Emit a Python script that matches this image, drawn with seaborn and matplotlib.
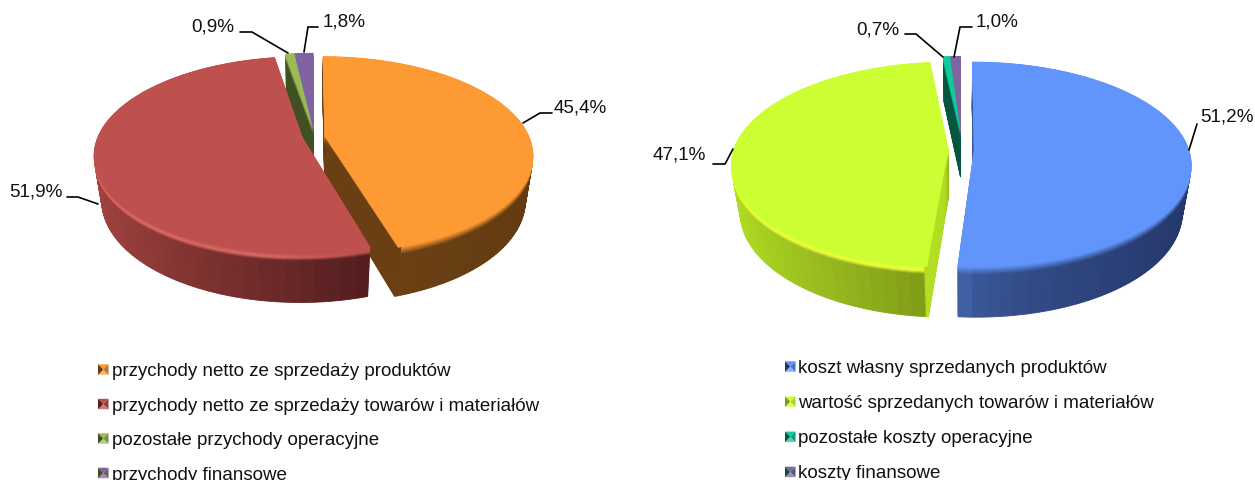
import numpy as np
import matplotlib
matplotlib.use("Agg")
import matplotlib.pyplot as plt
import matplotlib.transforms as mtransforms
from matplotlib.colors import to_rgb
from matplotlib.legend_handler import HandlerBase
from matplotlib.patches import Patch, Polygon
import seaborn as sns

# ---------- data ----------
left_labels = ["przychody netto ze sprzedaży produktów",
               "przychody netto ze sprzedaży towarów i materiałów",
               "pozostałe przychody operacyjne",
               "przychody finansowe"]
left_values = [45.4, 51.9, 0.9, 1.8]
right_labels = ["koszt własny sprzedanych produktów",
                "wartość sprzedanych towarów i materiałów",
                "pozostałe koszty operacyjne",
                "koszty finansowe"]
right_values = [51.2, 47.1, 0.7, 1.0]

# ---------- styles ----------
left_top = ["#FD9A34", "#BE504D", "#9BBB59", "#8064A2"]
left_wall_l = ["#6E4216", "#A3443F", "#3F5022", "#3F5022"]
left_wall_r = ["#633A11", "#541E20", "#3F5022", "#3F5022"]
left_rim = [None, "#DE6C68", None, None]
right_top = ["#6295FC", "#CCFF33", "#0FCB9B", "#8064A2"]
right_wall_l = ["#3F60A4", "#B2DE24", "#07553F", "#07553F"]
right_wall_r = ["#25376A", "#7F9B18", "#07553F", "#07553F"]
right_rim = [None, "#F2FF3A", None, None]

sns.set_theme(style="white")
plt.rcParams["font.family"] = ["Liberation Sans", "DejaVu Sans"]


class Persp(mtransforms.Transform):
    """Projects the unit pie plane at height z to pixel space."""
    input_dims = 2
    output_dims = 2
    has_inverse = False
    is_separable = False

    def __init__(self, geo, z):
        super().__init__()
        self.geo, self.z = geo, z

    def transform_non_affine(self, xy):
        g = self.geo
        xy = np.asarray(xy, float)
        w = 1 + g["k"] * xy[:, 1] + g["m"] * self.z
        return np.column_stack([g["X"] + g["A"] * xy[:, 0] / w,
                                g["Y"] + (-g["B"] * xy[:, 1] + g["Z"] * self.z) / w])


fig = plt.figure(figsize=(12.55, 4.8), dpi=100)
ax = fig.add_axes([0, 0, 1, 1])
LAYERS = 56
BEVEL = 0.15
CUT = 0.002


def mix(a, b, t):
    a, b = np.array(to_rgb(a)), np.array(to_rgb(b))
    return tuple(a + (b - a) * t)


def draw_pie(values, top, wall_l, wall_r, rim, geo, offsets, radii,
             cut_first, cut_last, gamma, order):
    fr = np.array(values) / sum(values)
    starts = np.concatenate([[0], np.cumsum(fr)[:-1]])
    parts = []
    for i in range(len(fr)):
        n = max(1, int(round(fr[i] * 110)))
        head = [CUT] if cut_first[i] else []
        tail = [CUT] if cut_last[i] else []
        body = fr[i] - CUT * (len(head) + len(tail))
        sub = head + [body / n] * n + tail
        edge = np.concatenate([[0], np.cumsum(sub)])
        mids = (edge[:-1] + edge[1:]) / 2 + starts[i]
        sx = np.sin(mids * 2 * np.pi)
        lo, hi = sx.min(), sx.max()
        ramp = sns.blend_palette([wall_l[i], wall_r[i]], 64)
        idx = (((sx - lo) / max(hi - lo, 1e-6)) ** gamma[i] * 63).astype(int)
        base = [ramp[j] for j in idx]
        crisp = [False] * len(sub)
        if cut_first[i]:
            base[0] = to_rgb(cut_first[i])
            crisp[0] = True
        if cut_last[i]:
            base[-1] = to_rgb(cut_last[i])
            crisp[-1] = True
        parts.append((np.array(sub), sx, base, crisp))

    for z in np.linspace(1, 0.0, LAYERS):
        tr = Persp(geo, z) + ax.transData
        for i in order:
            sub, sx, base, crisp = parts[i]
            cols = []
            for c, x, sharp in zip(base, sx, crisp):
                if z < BEVEL and not sharp:
                    t = z / BEVEL
                    if rim[i] is not None:
                        h = np.clip((0.25 - x) / 0.4, 0, 1)
                        peak = mix(top[i], rim[i], h)
                        col = mix(top[i], peak, t / 0.55) if t < 0.55 else mix(peak, c, (t - 0.55) / 0.45)
                    else:
                        col = mix(top[i], c, t)
                else:
                    col = c
                cols.append(col)
            wedges, _ = ax.pie(sub, colors=cols, center=offsets[i], radius=radii[i],
                               startangle=90 - starts[i] * 360, counterclock=False,
                               normalize=False, frame=False)
            for w in wedges:
                w.set_transform(tr)
                w.set_edgecolor(w.get_facecolor())
                w.set_linewidth(0.6)
    tr = Persp(geo, 0) + ax.transData
    for i in order:
        wedges, _ = ax.pie([fr[i]], colors=[top[i]], center=offsets[i], radius=radii[i],
                           startangle=90 - starts[i] * 360, counterclock=False,
                           normalize=False, frame=False)
        wedges[0].set_transform(tr)
        wedges[0].set_edgecolor(top[i])
        wedges[0].set_linewidth(0.3)


geo_left = dict(X=313, Y=137, A=204, B=95, k=0.183, m=0.035, Z=46)
geo_right = dict(X=960.5, Y=149, A=214, B=100, k=0.151, m=0.04, Z=49.5)

draw_pie(left_values, left_top, left_wall_l, left_wall_r, left_rim, geo_left,
         offsets=[(0.059, 0.0), (-0.054, 0.0), (0.0, 0.10), (0.0, 0.10)],
         radii=[1, 1, 0.95, 0.95], cut_first=[None] * 4,
         cut_last=["#6B3F14", None, None, None], gamma=[1, 1, 1, 1], order=[2, 3, 1, 0])
draw_pie(right_values, right_top, right_wall_l, right_wall_r, right_rim, geo_right,
         offsets=[(0.065, 0.0), (-0.058, 0.0), (0.0, 0.195), (0.0, 0.195)],
         radii=[1, 1, 0.88, 0.88], cut_first=[None, "#B2DE24", None, None],
         cut_last=[None] * 4, gamma=[0.5, 1, 1, 1], order=[2, 3, 1, 0])

ax.set_aspect("auto")
ax.set_xlim(0, 1255)
ax.set_ylim(480, 0)
ax.axis("off")

# ---------- value labels and leader lines ----------
def pct(v):
    return f"{v:.1f}%".replace(".", ",")

leaders_left = [[(523, 123), (540, 113), (552, 113)],
                [(98, 204), (78, 197), (67, 197)],
                [(288, 53), (252, 32), (240, 32)],
                [(304, 52), (308, 27), (318, 27)]]
text_left = [(554, 108, "left"), (63, 192, "right"), (234, 27, "right"), (323, 22, "left")]
leaders_right = [[(1189, 150), (1197, 124)],
                 [(733, 149), (725, 164), (713, 164)],
                 [(943, 57), (916, 34), (905, 34)],
                 [(954, 57), (960, 27), (972, 27)]]
text_right = [(1200, 117, "left"), (706, 155, "right"), (899, 30, "right"), (976, 22, "left")]

for vals, leaders, texts in ((left_values, leaders_left, text_left),
                             (right_values, leaders_right, text_right)):
    for v, ln, (tx, ty, ha) in zip(vals, leaders, texts):
        ax.plot(*zip(*ln), color="black", lw=1.2, solid_joinstyle="miter", clip_on=False)
        ax.text(tx, ty, pct(v), ha=ha, va="center", fontsize=13.6, color="#111111")


# ---------- legends ----------
class BevelHandler(HandlerBase):
    def create_artists(self, legend, orig, xd, yd, width, height, fontsize, trans):
        x0, y0 = -xd, -yd
        s = min(width, height * 1.2)
        y0 = y0 + (height - s) / 2
        c = (x0 + s / 2, y0 + s / 2)
        a, b, d, e = (x0, y0), (x0 + s, y0), (x0 + s, y0 + s), (x0, y0 + s)
        top_c, wall = orig.get_facecolor(), orig.get_edgecolor()
        faces = [((e, d, c), top_c), ((a, b, c), mix(top_c, "white", 0.25)),
                 ((a, e, c), wall), ((b, d, c), mix(top_c, wall, 0.4))]
        return [Polygon(p, closed=True, facecolor=f, edgecolor="none", transform=trans)
                for p, f in faces]


for labels, top, wall, px, py, spacing in ((left_labels, left_top, left_wall_r, 98, 363, 0.925),
                                           (right_labels, right_top, right_wall_r, 785, 360, 0.96)):
    handles = [Patch(facecolor=t, edgecolor=w) for t, w in zip(top, wall)]
    fig.legend(handles, labels, loc="upper left",
               bbox_to_anchor=(px / 1255, 1 - py / 480), frameon=False,
               fontsize=13.5, labelspacing=spacing, handlelength=0.56,
               handletextpad=0.16, borderpad=0, borderaxespad=0,
               labelcolor="#111111", handler_map={Patch: BevelHandler()})

fig.savefig("out.png", dpi=100, facecolor="white")
